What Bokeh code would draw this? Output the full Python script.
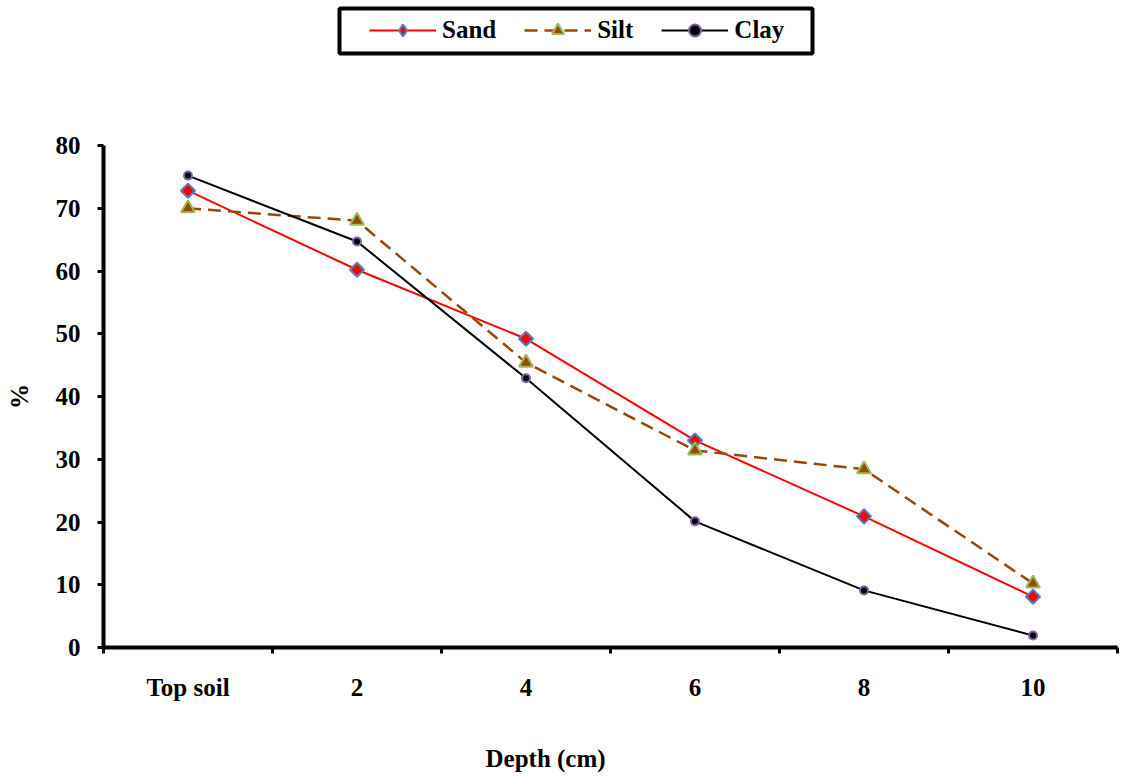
import math
from bokeh.plotting import figure
from bokeh.layouts import column
from bokeh.models import FixedTicker, Legend, LegendItem, ColumnDataSource, Title, BoxAnnotation
from bokeh.embed import file_html
from bokeh.resources import INLINE

categories = ["Top soil", "2", "4", "6", "8", "10"]
sand = [72.8, 60.2, 49.2, 33.0, 20.9, 8.1]
silt = [70.0, 68.0, 45.4, 31.4, 28.4, 10.2]
clay = [75.2, 64.7, 42.9, 20.1, 9.1, 1.9]
y_ticks = [0, 10, 20, 30, 40, 50, 60, 70, 80]
series_names = ["Sand", "Silt", "Clay"]
series_cols = ["sand", "silt", "clay"]

FONT = "Liberation Serif"
LEG_H = 60

xs = [i + 0.5 for i in range(len(categories))]
src = ColumnDataSource(dict(x=xs, sand=sand, silt=silt, clay=clay))

styles = {
    "Sand": dict(line=dict(line_color="#FF0000", line_width=2),
                 mark=dict(marker="square", angle=math.pi / 4, size=10, fill_color="#FF0000",
                           line_color="#4F81BD", line_width=2)),
    "Silt": dict(line=dict(line_color="#984807", line_width=2.5, line_dash="13 7"),
                 mark=dict(marker="triangle", size=14, fill_color="#984807",
                           line_color="#9BBB59", line_width=2)),
    "Clay": dict(line=dict(line_color="#000000", line_width=2),
                 mark=dict(marker="circle", size=8, fill_color="#000000",
                           line_color="#8064A2", line_width=2)),
}
# legend glyphs are drawn unrotated, so the legend uses a diamond marker for Sand
legend_marks = {"Sand": dict(styles["Sand"]["mark"], marker="diamond", angle=0),
                "Silt": styles["Silt"]["mark"], "Clay": styles["Clay"]["mark"]}

p = figure(width=1121, height=778 - LEG_H, output_backend="svg", toolbar_location=None,
           x_range=(0, len(categories)), y_range=(0, 80),
           min_border_left=103, min_border_right=4, min_border_top=145 - LEG_H, min_border_bottom=131)
p.outline_line_color = None
p.xgrid.visible = False
p.ygrid.visible = False

for name, col in zip(series_names, series_cols):
    p.line("x", col, source=src, **styles[name]["line"])
    p.scatter("x", col, source=src, **styles[name]["mark"])

# x axis: labels at category centres, tick marks at boundaries
p.xaxis.ticker = FixedTicker(ticks=xs, minor_ticks=list(range(len(categories) + 1)))
p.xaxis.major_label_overrides = {x: c for x, c in zip(xs, categories)}
p.xaxis.major_tick_line_color = None
p.xaxis.minor_tick_line_color = "black"
p.xaxis.minor_tick_line_width = 3
p.xaxis.minor_tick_out = 6
p.xaxis.minor_tick_in = 0
p.xaxis.axis_line_width = 4
p.xaxis.major_label_standoff = 20

p.yaxis.ticker = FixedTicker(ticks=y_ticks, minor_ticks=[])
p.yaxis.major_tick_line_width = 3
p.yaxis.major_tick_out = 6
p.yaxis.major_tick_in = 0
p.yaxis.axis_line_width = 4
p.yaxis.major_label_standoff = 17
p.yaxis.axis_label = "%"
p.yaxis.axis_label_standoff = 20

for ax in (p.xaxis[0], p.yaxis[0]):
    ax.major_label_text_font = FONT
    ax.major_label_text_font_style = "bold"
    ax.major_label_text_font_size = "25px"
    ax.major_label_text_color = "black"
    ax.axis_label_text_font = FONT
    ax.axis_label_text_font_style = "bold"
    ax.axis_label_text_font_size = "25px"
    ax.axis_label_text_color = "black"
    ax.axis_line_color = "black"

xtitle = Title(text="Depth (cm)", align="left", offset=382, standoff=10,
               text_font=FONT, text_font_style="bold", text_font_size="25px", text_color="black")
try:
    xtitle.padding = dict(top=34, bottom=0, left=0, right=0)
except Exception:
    xtitle.standoff = 50
p.add_layout(xtitle, "below")

# legend strip on top (same series, ranges chosen so that only the legend shows)
lf = figure(width=1121, height=LEG_H, output_backend="svg", toolbar_location=None,
            x_range=(100, 101), y_range=(100, 101), min_border=0)
lf.axis.visible = False
lf.grid.visible = False
lf.outline_line_color = None
items = []
for name, col in zip(series_names, series_cols):
    r1 = lf.line("x", col, source=src, **styles[name]["line"])
    r2 = lf.scatter("x", col, source=src, **legend_marks[name])
    items.append(LegendItem(label=name, renderers=[r1, r2]))

legend = Legend(items=items, orientation="horizontal", location=(266, 15),
                label_text_font=FONT, label_text_font_style="bold", label_text_font_size="25px",
                label_text_color="black",
                border_line_color=None, background_fill_alpha=0,
                glyph_width=67, glyph_height=30, spacing=28, padding=6, label_standoff=6,
                margin=0)
lf.add_layout(legend, "center")

# legend frame (screen units, relative to the strip's frame which is aligned with the plot's)
frame_box = BoxAnnotation(left=236, right=709, top=7, bottom=52,
                          left_units="screen", right_units="screen",
                          top_units="screen", bottom_units="screen",
                          fill_alpha=0, line_color="black", line_width=4, line_alpha=1)
lf.add_layout(frame_box)

layout = column(lf, p, spacing=0)
open("out.html", "w").write(file_html(layout, INLINE))
